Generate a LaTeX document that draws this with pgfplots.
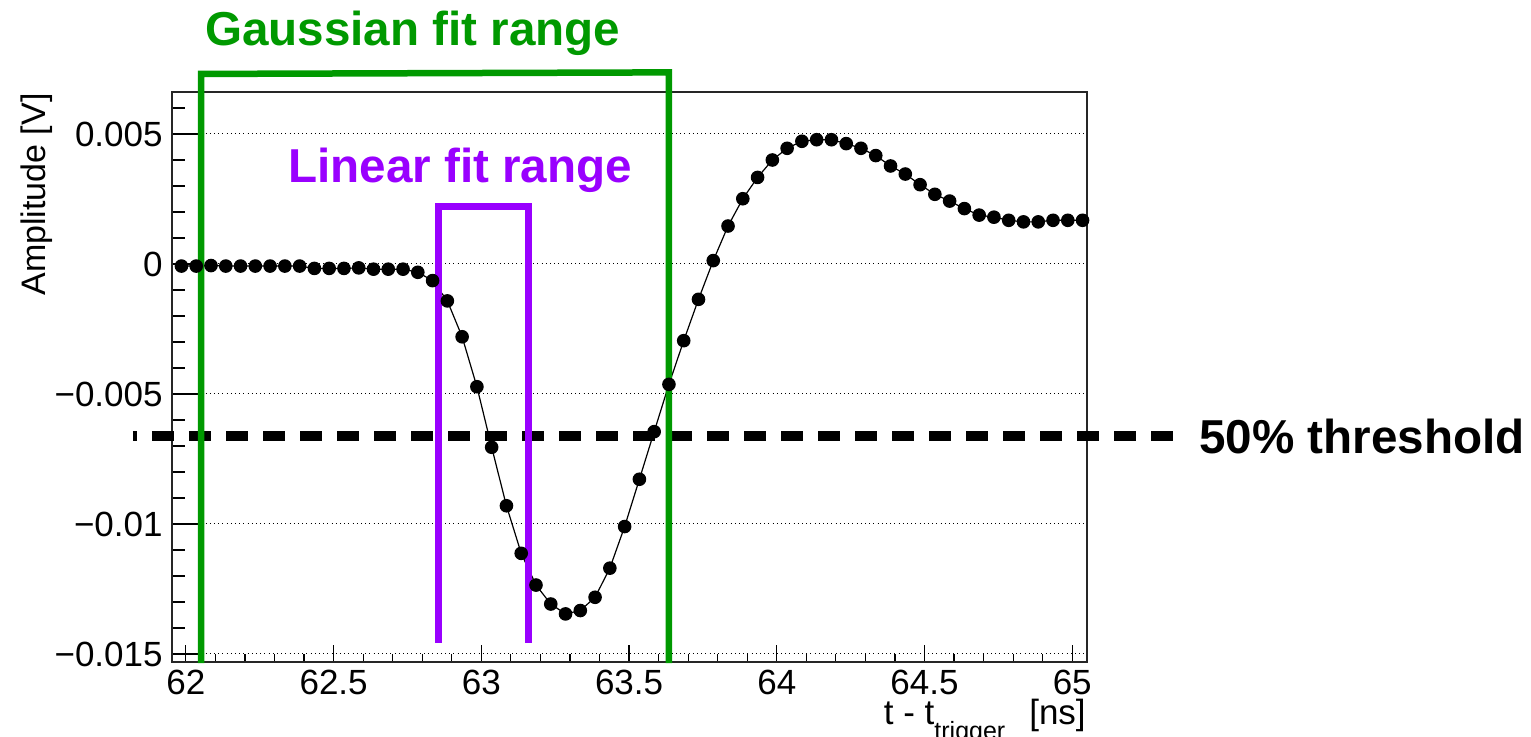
\documentclass[border=0pt]{standalone}
\usepackage{fontspec}
\setmainfont{Liberation Sans}
\usepackage{pgfplots}
\usepackage{pgfplotstable}
\pgfplotsset{compat=1.18}
\definecolor{rgreen}{RGB}{0,153,0}
\definecolor{rpurple}{RGB}{153,0,255}

\pgfplotstableread{
x y
61.985 -0.00008
62.035 -0.00008
62.085 -0.00006
62.135 -0.00008
62.185 -0.00008
62.235 -0.00008
62.285 -0.00008
62.335 -0.00008
62.385 -0.00008
62.435 -0.00017
62.485 -0.00017
62.535 -0.00017
62.585 -0.00015
62.635 -0.00020
62.685 -0.00020
62.735 -0.00020
62.785 -0.00032
62.835 -0.00064
62.885 -0.00142
62.935 -0.00280
62.985 -0.00472
63.035 -0.00705
63.085 -0.00930
63.135 -0.01113
63.185 -0.01235
63.235 -0.01308
63.285 -0.01346
63.335 -0.01333
63.385 -0.01282
63.435 -0.01170
63.485 -0.01010
63.535 -0.00828
63.585 -0.00645
63.635 -0.00463
63.685 -0.00295
63.735 -0.00136
63.785 0.00013
63.835 0.00146
63.885 0.00251
63.935 0.00333
63.985 0.00400
64.035 0.00445
64.085 0.00472
64.135 0.00478
64.185 0.00478
64.235 0.00463
64.285 0.00445
64.335 0.00417
64.385 0.00377
64.435 0.00346
64.485 0.00305
64.535 0.00268
64.585 0.00242
64.635 0.00213
64.685 0.00188
64.735 0.00180
64.785 0.00168
64.835 0.00162
64.885 0.00162
64.935 0.00168
64.985 0.00168
65.035 0.00168
}\wave

\begin{document}
\begin{tikzpicture}
\useasboundingbox (-86pt,-37pt) rectangle (679.5pt,331pt);
% x ticks axis
\begin{axis}[
  at={(0,0)}, anchor=south west,
  width=457.5pt, height=285pt, scale only axis,
  xmin=61.953, xmax=65.05, ymin=-0.01531, ymax=0.006615,
  axis line style={draw=none},
  ytick=\empty,
  xtick={62,62.5,63,63.5,64,64.5,65},
  xticklabels={62,62.5,63,63.5,64,64.5,65},
  minor xtick={62.1,62.2,62.3,62.4,62.6,62.7,62.8,62.9,63.1,63.2,63.3,63.4,63.6,63.7,63.8,63.9,64.1,64.2,64.3,64.4,64.6,64.7,64.8,64.9},
  xtick pos=bottom,
  major tick length=8.5pt, minor tick length=4pt,
  tick style={black, line width=0.6pt},
  xticklabel style={font=\fontsize{17.5}{20}\selectfont, anchor=north, inner sep=0pt, yshift=-4pt},
]
\end{axis}
% main axis
\begin{axis}[
  at={(0,0)}, anchor=south west,
  width=457.5pt, height=285pt, scale only axis,
  xmin=61.953, xmax=65.05, ymin=-0.01531, ymax=0.006615,
  clip=false,
  axis line style={black!85, line width=1pt},
  xtick=\empty,
  ytick={-0.015,-0.01,-0.005,0,0.005},
  yticklabels={−0.015,−0.01,−0.005,0,0.005},
  minor ytick={-0.014,-0.013,-0.012,-0.011,-0.009,-0.008,-0.007,-0.006,-0.004,-0.003,-0.002,-0.001,0.001,0.002,0.003,0.004,0.006},
  ytick pos=left,
  scaled y ticks=false,
  major tick length=13.5pt, minor tick length=6.5pt,
  tick style={black, line width=0.6pt},
  ymajorgrids,
  grid style={black, line width=0.5pt, dash pattern=on 0.5pt off 1.6pt},
  yticklabel style={font=\fontsize{17.5}{20}\selectfont, anchor=east, inner sep=0pt, xshift=-4.5pt},
]
\addplot[black, line width=0.6pt, mark=*, mark size=3.1pt, mark options={fill=black, draw=black, solid}] table {\wave};

\draw[black, line width=5.3pt, dash pattern=on 11pt off 7.5pt, dash phase=9pt]
  (axis cs:61.821,-0.006615) -- (axis cs:65.368,-0.006615);
\draw[rpurple, line width=3.5pt, line join=miter]
  (axis cs:62.856,-0.014577) -- (axis cs:62.856,0.002211) -- (axis cs:63.160,0.002211) -- (axis cs:63.160,-0.014577);
\draw[rgreen, line width=3.25pt, line join=miter]
  (axis cs:62.052,-0.01535) -- (axis cs:62.052,0.00731) -- (axis cs:63.635,0.00737) -- (axis cs:63.635,-0.01535);

\node[anchor=base west, inner sep=0pt, text=rgreen, font=\bfseries\fontsize{23.8}{28}\selectfont]
  at (axis cs:62.064,0.008423) {Gaussian fit range};
\node[anchor=base west, inner sep=0pt, text=rpurple, font=\bfseries\fontsize{23.8}{28}\selectfont]
  at (axis cs:62.345,0.003115) {Linear fit range};
\node[anchor=base west, inner sep=0pt, text=black, font=\bfseries\fontsize{23.8}{28}\selectfont]
  at (axis cs:65.429,-0.007308) {50\% threshold};

\node[rotate=90, anchor=base east, inner sep=0pt, font=\fontsize{17}{20}\selectfont]
  at (axis cs:61.524,0.006577) {Amplitude [V]};
\node[anchor=base east, inner sep=0pt, font=\fontsize{17.5}{20}\selectfont]
  at (axis cs:65.047,-0.01773) {t - t\raisebox{-7.5pt}{\fontsize{12.5}{14}\selectfont trigger}\hspace{12pt}[ns]};
\end{axis}
\end{tikzpicture}
\end{document}
